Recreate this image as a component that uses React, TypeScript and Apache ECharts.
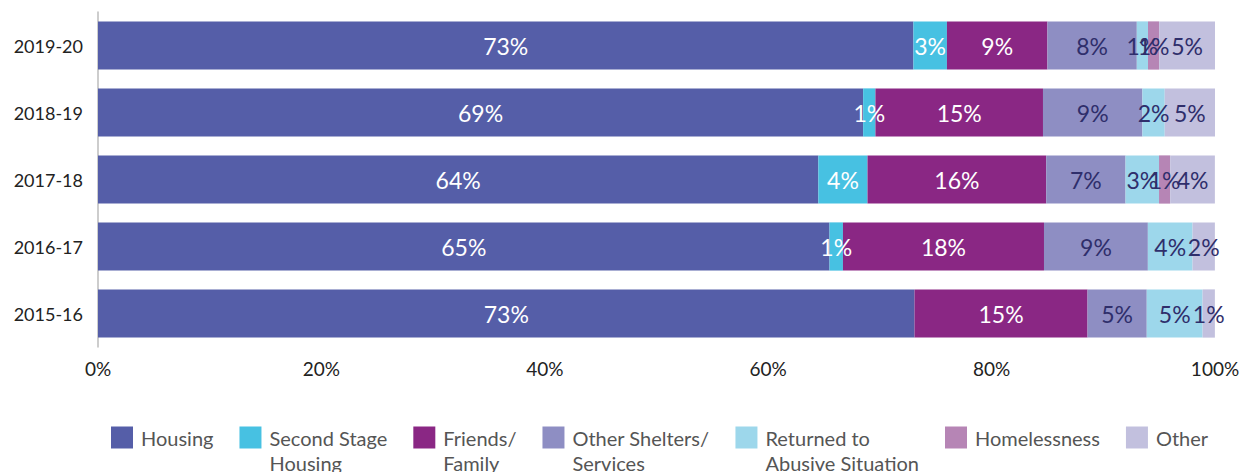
import React, { useEffect, useRef } from "react";
import * as echarts from "echarts";

const years = ["2019-20", "2018-19", "2017-18", "2016-17", "2015-16"];
const seriesNames = [
  "Housing",
  "Second Stage\nHousing",
  "Friends/\nFamily",
  "Other Shelters/\nServices",
  "Returned to\nAbusive Situation",
  "Homelessness",
  "Other",
];
const housing = [73, 68.5, 64.49, 65.49, 73.1];
const secondStage = [3, 1.1, 4.4, 1.2, 0];
const friendsFamily = [9, 15.0, 16.0, 18.0, 15.49];
const otherShelters = [8, 8.9, 7.1, 9.3, 5.3];
const returnedAbusive = [1, 2.0, 3.0, 4.0, 5.0];
const homelessness = [1, 0, 1.0, 0, 0];
const other = [5, 4.5, 4.0, 2.0, 1.1];
const xTicks = [0, 20, 40, 60, 80, 100];

const colors = ["#555ea8", "#47c1e2", "#8a2784", "#8e8ec3", "#9dd7eb", "#b685b5", "#c2c0de"];
const labelColors = ["#ffffff", "#ffffff", "#ffffff", "#2f2e6b", "#2f2e6b", "#2f2e6b", "#2f2e6b"];
const values = [housing, secondStage, friendsFamily, otherShelters, returnedAbusive, homelessness, other];

const FONT = "Lato, 'Open Sans', sans-serif";

export default function App() {
  const ref = useRef<HTMLDivElement>(null);
  useEffect(() => {
    if (!ref.current) return;
    const chart = echarts.init(ref.current, null, { renderer: "svg" });
    const series = seriesNames.map((name, i) => ({
      name,
      type: "bar",
      stack: "total",
      barCategoryGap: "28%",
      data: values[i],
      itemStyle: { color: colors[i] },
      label: {
        show: true,
        position: "inside",
        color: labelColors[i],
        fontSize: 23,
        fontFamily: FONT,
        formatter: (p: any) => (p.value ? Math.round(p.value) + "%" : ""),
      },
    }));
    chart.setOption({
      animation: false,
      textStyle: { fontFamily: FONT },
      grid: { left: 98, right: 35, top: 12, bottom: 125, containLabel: false },
      xAxis: {
        type: "value",
        min: xTicks[0],
        max: xTicks[xTicks.length - 1],
        interval: 20,
        axisLine: { show: false },
        axisTick: { show: false },
        splitLine: { show: false },
        axisLabel: { formatter: "{value}%", color: "#222", fontSize: 19, margin: 12, fontFamily: FONT },
      },
      yAxis: {
        type: "category",
        inverse: true,
        data: years,
        axisLine: { show: true, lineStyle: { color: "#bdbdbd", width: 1.5 } },
        axisTick: { show: false },
        axisLabel: { color: "#222", fontSize: 18, margin: 15, fontFamily: FONT },
      },
      legend: {
        left: 111,
        top: 400,
        padding: 0,
        itemWidth: 22,
        itemHeight: 22,
        itemGap: 26,
        icon: "rect",
        formatter: (name: string) => (name.indexOf("\n") >= 0 ? "\n" + name : name),
        textStyle: { color: "#555", fontSize: 20, lineHeight: 25, fontFamily: FONT, padding: [0, 0, 0, 3] },
        data: seriesNames,
      },
      series,
    });
    return () => chart.dispose();
  }, []);
  return (
    <div
      ref={ref}
      style={{ position: "absolute", left: 0, top: 0, width: 1250, height: 472 }}
    />
  );
}
